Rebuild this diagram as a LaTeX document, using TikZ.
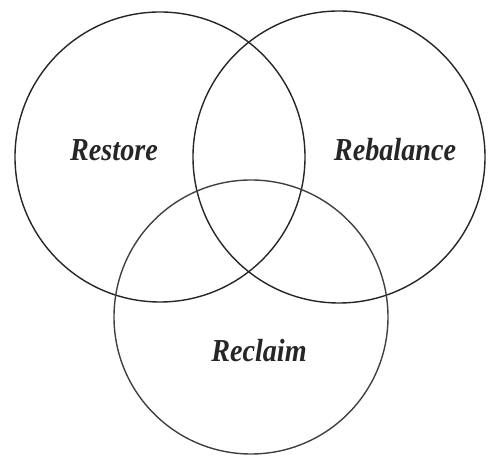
\documentclass[tikz,border=0pt]{standalone}
\usepackage{fontspec}
\setmainfont{Liberation Serif}
\begin{document}
\begin{tikzpicture}[x=1pt,y=1pt,
  ring/.style={draw=black!85,line width=1.4pt},
  lbl/.style={anchor=base,inner sep=0pt,xscale=0.88,font=\fontsize{32}{36}\selectfont\bfseries\itshape,text=black!85}]
\useasboundingbox (0,0) rectangle (499,462);
\draw[ring] (160,305) circle (145);
\draw[ring] (339,305) circle (146);
\draw[ring,draw=black!75] (251,145) circle (137);
\node[lbl] (restore) at (114,301) {Restore};
\node[lbl] (rebalance) at (395,301) {Rebalance};
\node[lbl] (reclaim) at (259,100) {Reclaim};
\end{tikzpicture}
\end{document}
